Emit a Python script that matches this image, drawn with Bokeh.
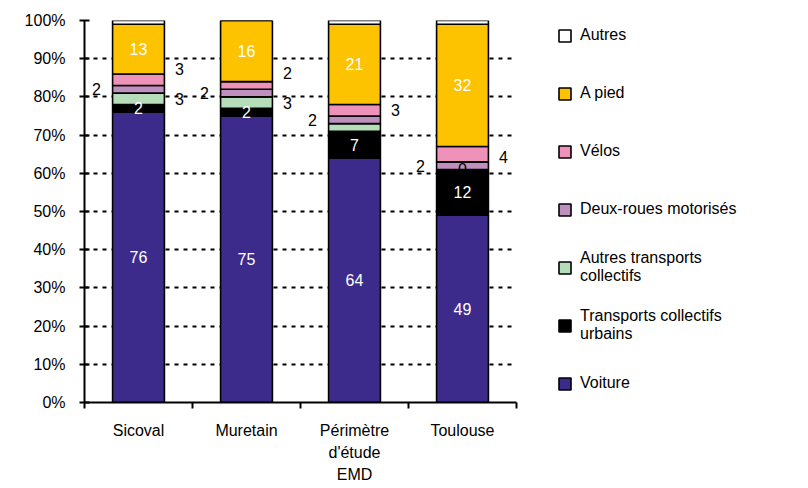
from bokeh.plotting import figure
from bokeh.models import (ColumnDataSource, Range1d, FixedTicker, PrintfTickFormatter,
                          Legend, LegendItem)
from bokeh.core.properties import value
from bokeh.embed import file_html
from bokeh.resources import INLINE

# ---- data ----
categories = ["Sicoval", "Muretain", "Périmètre\nd'étude\nEMD", "Toulouse"]
voiture = [76, 75, 64, 49]
tc_urbains = [2, 2, 7, 12]
autres_tc = [3, 3, 2, 0]
deux_roues = [2, 2, 2, 2]
velos = [3, 2, 3, 4]
a_pied = [13, 16, 21, 32]
autres = [1, 0, 1, 1]
y_ticks = [0, 10, 20, 30, 40, 50, 60, 70, 80, 90, 100]

series_keys = ["voiture", "tc_urbains", "autres_tc", "deux_roues", "velos", "a_pied", "autres"]
series_values = [voiture, tc_urbains, autres_tc, deux_roues, velos, a_pied, autres]
series_names = ["Voiture", "Transports collectifs\nurbains", "Autres transports\ncollectifs",
                "Deux-roues motorisés", "Vélos", "A pied", "Autres"]
colors = ["#3D2B8C", "#000000", "#B5DDBA", "#BF8FBF", "#EE92B9", "#FDC200", "#FFFFFF"]

# which segment values are labelled, and where (style: side, pixel nudge)
label_spec = [
    ("voiture", 0, "in", 0), ("voiture", 1, "in", 0), ("voiture", 2, "in", 0), ("voiture", 3, "in", 0),
    ("tc_urbains", 0, "in", 0), ("tc_urbains", 1, "in", 0), ("tc_urbains", 2, "in", 0), ("tc_urbains", 3, "in", 0),
    ("a_pied", 0, "in", 0), ("a_pied", 1, "in", 0), ("a_pied", 2, "in", 0), ("a_pied", 3, "in", 0),
    ("deux_roues", 0, "left", 0), ("deux_roues", 1, "left", 0), ("deux_roues", 2, "left", 0), ("deux_roues", 3, "left", 0),
    ("velos", 0, "right", -11), ("velos", 1, "right", -12), ("velos", 2, "right", 0), ("velos", 3, "right", 3),
    ("autres_tc", 0, "right", 0), ("autres_tc", 1, "right", 0), ("autres_tc", 3, "dark", 0),
]

xs = [i + 0.5 for i in range(len(categories))]
data = {"x": xs}
for k, v in zip(series_keys, series_values):
    data[k] = v
src = ColumnDataSource(data)

BAR_W = 0.48
FONT = "Liberation Sans"

p = figure(frame_width=432, frame_height=382, x_range=Range1d(0, 4), y_range=Range1d(0, 100),
           output_backend="svg", toolbar_location=None,
           min_border_left=84, min_border_right=280, min_border_top=20, min_border_bottom=82)
p.outline_line_color = None
p.xgrid.grid_line_color = None
p.ygrid.ticker = FixedTicker(ticks=y_ticks)
p.ygrid.grid_line_color = "black"
p.ygrid.grid_line_width = 2
p.ygrid.grid_line_dash = "4 5"

renderers = p.vbar_stack(series_keys, x="x", width=BAR_W, source=src,
                         fill_color=colors, line_color="black", line_width=1.6)

# ---- labels ----
lx, ly, lt, lc, lo = [], [], [], [], []
key_index = {k: i for i, k in enumerate(series_keys)}
for key, ci, side, dy in label_spec:
    si = key_index[key]
    bottom = sum(series_values[j][ci] for j in range(si))
    val = series_values[si][ci]
    yc = bottom + val / 2
    if side == "left":
        x = xs[ci] - BAR_W / 2 - 0.15
        col = "black"
    elif side == "right":
        x = xs[ci] + BAR_W / 2 + 0.14
        col = "black"
    elif side == "dark":
        x = xs[ci]
        col = "black"
    else:
        x = xs[ci]
        col = "white"
    lx.append(x); ly.append(yc); lt.append(str(val)); lc.append(col); lo.append(dy)

lsrc = ColumnDataSource(dict(x=lx, y=ly, t=lt, c=lc, o=lo))
p.text(x="x", y="y", text="t", source=lsrc, text_color="c", y_offset="o",
       text_align="center", text_baseline="middle",
       text_font=value(FONT), text_font_size="16px")

# ---- axes ----
yax = p.yaxis[0]
yax.ticker = FixedTicker(ticks=y_ticks)
yax.formatter = PrintfTickFormatter(format="%d%%")
yax.axis_line_width = 2
yax.major_tick_line_width = 2
yax.major_tick_out = 5
yax.major_tick_in = 5
yax.minor_tick_line_color = None
yax.major_label_standoff = 14
yax.major_label_text_font = FONT
yax.major_label_text_font_size = "16px"
yax.major_label_text_color = "black"

xax = p.xaxis[0]
xax.ticker = FixedTicker(ticks=xs, minor_ticks=[0, 1, 2, 3, 4])
xax.major_label_overrides = {x: c for x, c in zip(xs, categories)}
xax.axis_line_width = 2
xax.major_tick_line_color = None
xax.major_tick_out = 6
xax.major_tick_in = 0
xax.minor_tick_line_color = "black"
xax.minor_tick_line_width = 2
xax.minor_tick_out = 6
xax.minor_tick_in = 0
xax.major_label_standoff = 13
xax.major_label_text_font = FONT
xax.major_label_text_font_size = "16px"
xax.major_label_text_color = "black"
xax.major_label_text_line_height = 1.3

# ---- legend ----
items = [LegendItem(label=n, renderers=[r]) for n, r in zip(series_names, renderers)][::-1]
legend = Legend(items=items, location=(41, 0), padding=0, margin=0, spacing=20,
                glyph_width=15, glyph_height=15, label_height=38, label_width=150,
                label_standoff=8,
                label_text_font=FONT, label_text_font_size="16px",
                label_text_color="black",
                border_line_color=None, background_fill_alpha=0)
p.add_layout(legend, "right")

open("out.html", "w").write(file_html(p, INLINE))
